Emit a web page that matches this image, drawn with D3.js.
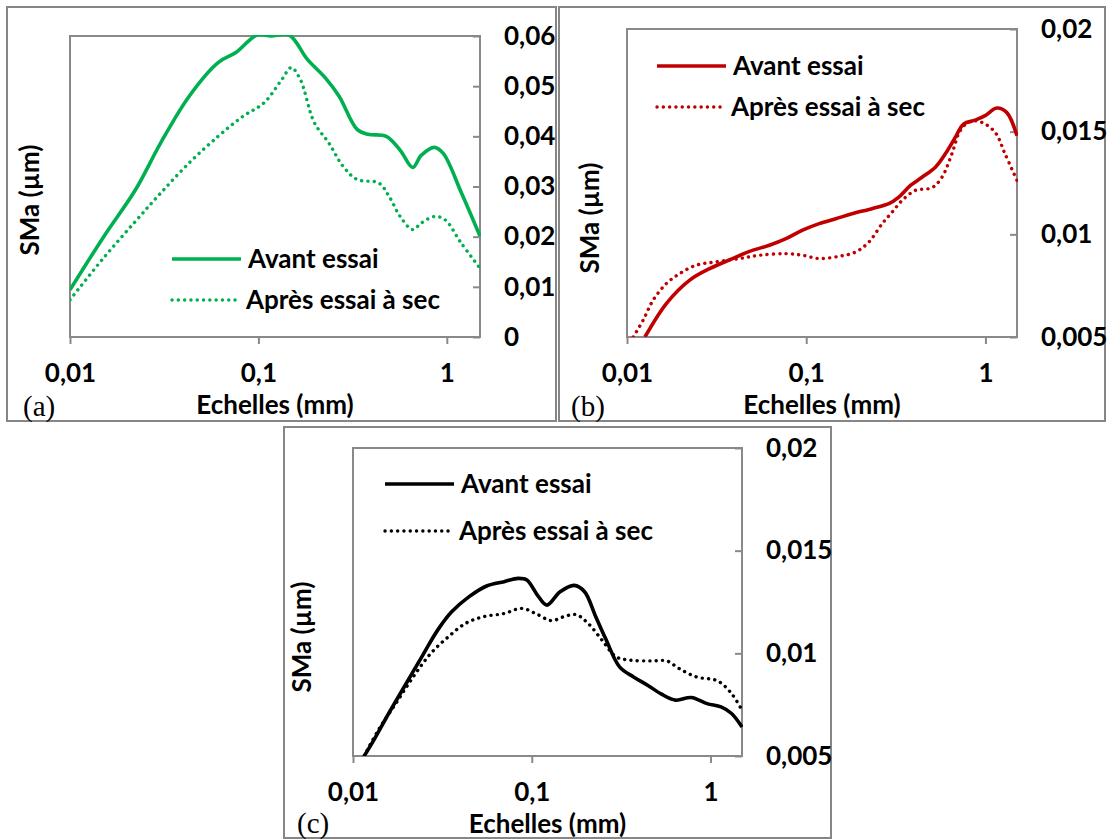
<!DOCTYPE html>
<html><head><meta charset="utf-8">
<script src="https://cdn.jsdelivr.net/npm/d3@7"></script>
<style>
body{margin:0;background:#fff;}
svg{display:block;}
text{font-family:Lato,"Noto Sans",sans-serif;font-weight:700;fill:#000;}
</style></head><body>
<svg id="chart" width="1108" height="839"></svg>
<script>
// ---------- DATA ----------
const xTicks = [0.01, 0.1, 1];
const xTickLabels = ["0,01", "0,1", "1"];
const legendLabels = ["Avant essai", "Après essai à sec"];
const panelTags = ["(a)", "(b)", "(c)"];
const xTitle = "Echelles (mm)";
const yTitle = "SMa (µm)";

const yTicksA = [0, 0.01, 0.02, 0.03, 0.04, 0.05, 0.06];
const yTicksB = [0.005, 0.01, 0.015, 0.02];
const yTicksC = [0.005, 0.01, 0.015, 0.02];

// Panel (a) – green
const aAvantX = [0.01, 0.0151, 0.0223, 0.0303, 0.0429, 0.0611, 0.0759, 0.0984, 0.1168, 0.1456, 0.1814, 0.226, 0.268, 0.334, 0.382, 0.477, 0.566, 0.659, 0.731, 0.857, 0.957, 1.193, 1.5];
const aAvantY = [0.0094, 0.0200, 0.0294, 0.0387, 0.048, 0.0547, 0.0567, 0.0602, 0.0600, 0.0602, 0.0554, 0.0517, 0.048, 0.0414, 0.0404, 0.0400, 0.0372, 0.0338, 0.0362, 0.0378, 0.0366, 0.0288, 0.0201];
const aApresX = [0.01, 0.0151, 0.0223, 0.0303, 0.0429, 0.0611, 0.0829, 0.1072, 0.1336, 0.1492, 0.1666, 0.1976, 0.2362, 0.2818, 0.334, 0.4355, 0.4943, 0.566, 0.659, 0.731, 0.857, 0.976, 1.193, 1.5];
const aApresY = [0.0074, 0.0158, 0.0231, 0.0287, 0.0347, 0.040, 0.044, 0.0467, 0.0514, 0.0537, 0.0514, 0.0428, 0.0387, 0.034, 0.0314, 0.0307, 0.028, 0.024, 0.0214, 0.0227, 0.024, 0.0234, 0.0187, 0.0137];

// Panel (b) – red
const bAvantX = [0.01259, 0.01662, 0.02239, 0.02891, 0.03881, 0.04824, 0.06229, 0.07715, 0.09537, 0.1181, 0.1462, 0.1801, 0.2326, 0.2892, 0.3286, 0.3816, 0.4429, 0.5255, 0.5973, 0.6786, 0.7548, 0.8767, 0.996, 1.156, 1.313, 1.5];
const bAvantY = [0.0050, 0.00664, 0.00777, 0.00833, 0.00882, 0.00917, 0.00947, 0.00979, 0.0102, 0.01052, 0.01076, 0.0110, 0.01125, 0.01149, 0.01181, 0.01238, 0.01278, 0.01327, 0.01392, 0.01472, 0.01537, 0.01556, 0.01578, 0.01615, 0.01594, 0.0148];
const bApresX = [0.01084, 0.01232, 0.0140, 0.01662, 0.0197, 0.02439, 0.03149, 0.04245, 0.0548, 0.07715, 0.09537, 0.1181, 0.1526, 0.1889, 0.2239, 0.2654, 0.3016, 0.3428, 0.4069, 0.5031, 0.5719, 0.6498, 0.7235, 0.8222, 0.9537, 1.132, 1.286, 1.5];
const bApresY = [0.0050, 0.00583, 0.0068, 0.00761, 0.00809, 0.0085, 0.00866, 0.00882, 0.00898, 0.00906, 0.00898, 0.00882, 0.00893, 0.00914, 0.00963, 0.01052, 0.01108, 0.01165, 0.01214, 0.01227, 0.01278, 0.01392, 0.01505, 0.0155, 0.01545, 0.01497, 0.01392, 0.01262];

// Panel (c) – black
const cAvantX = [0.01155, 0.01322, 0.01583, 0.01984, 0.02485, 0.02976, 0.03564, 0.04464, 0.05592, 0.07003, 0.08388, 0.09389, 0.1075, 0.1214, 0.1441, 0.1725, 0.1975, 0.2261, 0.2588, 0.3099, 0.3711, 0.4444, 0.5321, 0.6373, 0.7805, 0.9559, 1.145, 1.311, 1.5];
const cAvantY = [0.0050, 0.00585, 0.00707, 0.00853, 0.00999, 0.01113, 0.01202, 0.01276, 0.01328, 0.01349, 0.01365, 0.01357, 0.01284, 0.01235, 0.0130, 0.01331, 0.0130, 0.01186, 0.01072, 0.00934, 0.00885, 0.00845, 0.00801, 0.00772, 0.00785, 0.00755, 0.00739, 0.00707, 0.00641];
const cApresX = [0.01155, 0.01383, 0.01733, 0.02171, 0.0272, 0.03407, 0.04267, 0.05346, 0.07003, 0.08774, 0.1051, 0.1287, 0.1507, 0.1764, 0.2066, 0.2474, 0.2962, 0.3546, 0.4648, 0.5693, 0.6667, 0.8351, 1.094, 1.311, 1.5];
const cApresY = [0.0050, 0.00625, 0.00755, 0.00885, 0.00999, 0.0108, 0.01146, 0.01178, 0.01194, 0.01219, 0.01194, 0.01159, 0.01178, 0.01189, 0.01146, 0.01064, 0.00983, 0.00967, 0.00963, 0.00963, 0.00926, 0.00885, 0.00866, 0.00804, 0.00723];

// ---------- LAYOUT ----------
const panels = [
  {tag: panelTags[0], color: "#00B050", box: [7, 7, 556, 421], plot: [70, 36, 480, 337], yDomain: [0, 0.06], yTicks: yTicksA,
   avant: [aAvantX, aAvantY], apres: [aApresX, aApresY],
   yTitlePos: [30, 200], tagPos: [23, 406], legend: [172, 259, 300]},
  {tag: panelTags[1], color: "#C00000", box: [559, 7, 1105, 421], plot: [627, 29, 1017, 337], yDomain: [0.005, 0.02], yTicks: yTicksB,
   avant: [bAvantX, bAvantY], apres: [bApresX, bApresY],
   yTitlePos: [590, 218], tagPos: [571, 406], legend: [657, 66, 107]},
  {tag: panelTags[2], color: "#000000", box: [284, 427, 831, 838], plot: [353, 448, 742, 756], yDomain: [0.005, 0.02], yTicks: yTicksC,
   avant: [cAvantX, cAvantY], apres: [cApresX, cApresY],
   yTitlePos: [302, 637], tagPos: [297, 823], legend: [385, 484, 531]}
];

const svg = d3.select("#chart");
const fmt = d => String(d).replace(".", ",");
const FS = 26;

panels.forEach((p, i) => {
  const [bx0, by0, bx1, by1] = p.box;
  svg.append("rect").attr("x", bx0).attr("y", by0).attr("width", bx1 - bx0).attr("height", by1 - by0)
    .attr("fill", "#fff").attr("stroke", "#868686").attr("stroke-width", 2);

  const [px0, py0, px1, py1] = p.plot;
  const x = d3.scaleLog().domain([0.01, 1.5]).range([px0, px1]);
  const y = d3.scaleLinear().domain(p.yDomain).range([py1, py0]);

  const g = svg.append("g");
  g.append("rect").attr("x", px0).attr("y", py0).attr("width", px1 - px0).attr("height", py1 - py0)
    .attr("fill", "none").attr("stroke", "#898989").attr("stroke-width", 2);

  // x axis
  const xa = g.append("g").attr("transform", `translate(0,${py1})`)
    .call(d3.axisBottom(x).tickValues(xTicks).tickFormat((d, k) => xTickLabels[k]).tickSize(7).tickPadding(20));
  xa.select(".domain").remove();
  xa.selectAll("line").attr("stroke", "#898989").attr("stroke-width", 2);
  xa.selectAll("text").attr("font-size", FS).style("font-family", "Lato").style("font-weight", 700).attr("fill", "#000");

  // y axis on right, ticks inward
  const ya = g.append("g").attr("transform", `translate(${px1},0)`)
    .call(d3.axisRight(y).tickValues(p.yTicks).tickFormat(fmt).tickSize(-7).tickPadding(24));
  ya.select(".domain").remove();
  ya.selectAll("line").attr("stroke", "#898989").attr("stroke-width", 2);
  ya.selectAll("text").attr("font-size", FS).style("font-family", "Lato").style("font-weight", 700).attr("fill", "#000");

  // titles
  g.append("text").attr("x", (px0 + px1) / 2).attr("y", i === 2 ? 824 : 405).attr("dy", "0.35em")
    .attr("text-anchor", "middle").attr("font-size", FS).text(xTitle);
  g.append("text").attr("transform", `translate(${p.yTitlePos[0]},${p.yTitlePos[1]}) rotate(-90)`)
    .attr("dy", "0.35em").attr("text-anchor", "middle").attr("font-size", FS).text(yTitle);
  g.append("text").attr("x", p.tagPos[0]).attr("y", p.tagPos[1]).attr("dy", "0.35em")
    .style("font-family", "'Liberation Serif','Times New Roman',serif").style("font-weight", 400)
    .attr("font-size", 29).text(p.tag);

  // clip
  const cid = "clip" + i;
  svg.append("clipPath").attr("id", cid).append("rect")
    .attr("x", px0).attr("y", py0 - 1).attr("width", px1 - px0 + 1).attr("height", py1 - py0 + 1);

  const line = d3.line().x(d => x(d[0])).y(d => y(d[1])).curve(d3.curveCatmullRom.alpha(0.5));
  const avantData = p.avant[0].map((v, k) => [v, p.avant[1][k]]);
  const apresData = p.apres[0].map((v, k) => [v, p.apres[1][k]]);

  g.append("path").datum(apresData).attr("clip-path", `url(#${cid})`).attr("d", line)
    .attr("fill", "none").attr("stroke", p.color).attr("stroke-width", 3.4)
    .attr("stroke-linecap", "round").attr("stroke-dasharray", "0.1 6.2");
  g.append("path").datum(avantData).attr("clip-path", `url(#${cid})`).attr("d", line)
    .attr("fill", "none").attr("stroke", p.color).attr("stroke-width", 3.6);

  // legend
  const [lx, ly1, ly2] = p.legend;
  g.append("line").attr("x1", lx).attr("x2", lx + 69).attr("y1", ly1).attr("y2", ly1)
    .attr("stroke", p.color).attr("stroke-width", 3.6);
  g.append("text").attr("x", lx + 76).attr("y", ly1).attr("dy", "0.35em").attr("font-size", FS).text(legendLabels[0]);
  g.append("line").attr("x1", lx).attr("x2", lx + 66).attr("y1", ly2).attr("y2", ly2)
    .attr("stroke", p.color).attr("stroke-width", 3.4).attr("stroke-linecap", "round").attr("stroke-dasharray", "0.1 6.2");
  g.append("text").attr("x", lx + 74).attr("y", ly2).attr("dy", "0.35em").attr("font-size", FS).text(legendLabels[1]);
});
</script>
</body></html>
